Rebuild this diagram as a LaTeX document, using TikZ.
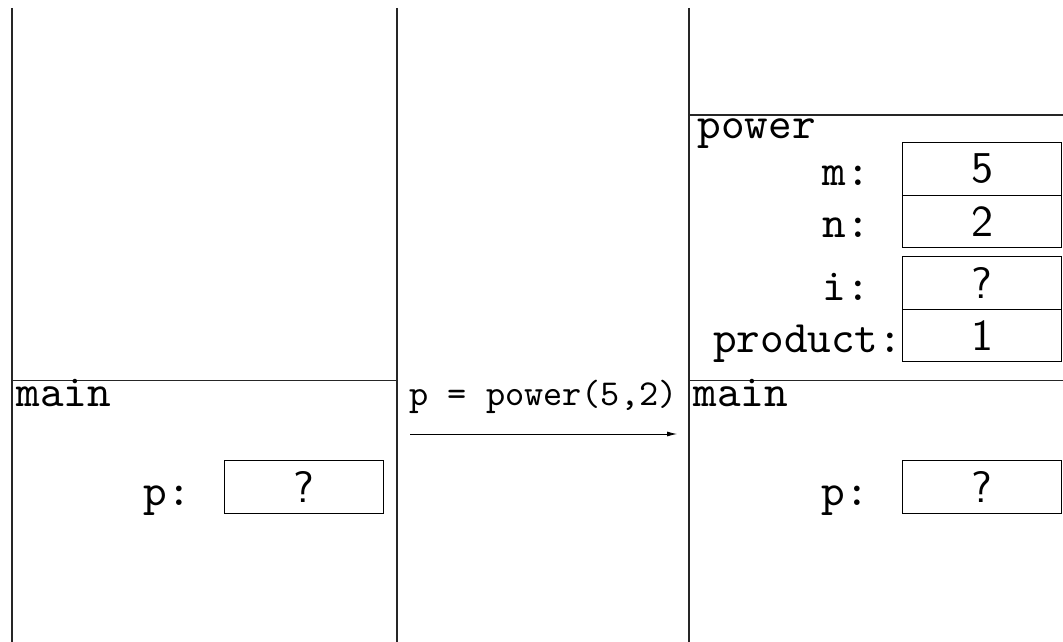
\documentclass[tikz,border=0pt]{standalone}
\usepackage{fontspec}
\newfontfamily\lblfont{lmmono10-regular.otf}
\newfontfamily\valfont{lmsans10-regular.otf}
\usetikzlibrary{arrows.meta}
\begin{document}
\begin{tikzpicture}[x=1pt,y=-1pt,
  panel/.style={line width=1.1pt, draw=black!85},
  cell/.style={draw, line width=1.1pt, minimum width=159pt, minimum height=52.5pt, inner sep=0pt, font=\fontsize{44}{50}\valfont, anchor=north west},
  lbl/.style={font=\fontsize{45}{50}\lblfont, inner sep=0pt, anchor=base east},
  ttl/.style={font=\fontsize{45}{50}\lblfont, inner sep=0pt, anchor=base west},
  callarrow/.style={-{Latex[length=10pt,width=5pt]}, line width=0.8pt},
]
\useasboundingbox (0,0) rectangle (1063,642);
% panel frames
\draw[panel] (12,8) -- (12,642);
\draw[panel] (397,8) -- (397,642);
\draw[panel] (689,8) -- (689,642);
\draw[panel] (12,380.5) -- (397,380.5);
\draw[panel] (689,380.5) -- (1063,380.5);
\draw[panel] (689,115) -- (1063,115);
% left panel: main
\node[ttl] (mainL) at (16.5,406) {main};
\node[lbl] (pL) at (191,505) {p:};
\node[cell] (pLbox) at (224,460) {?};
% middle: call
\node[font=\fontsize{36.5}{40}\lblfont, inner sep=0pt, anchor=base] (call) at (543.5,405) {p = power(5,2)};
\coordinate (a0) at (410,434);
\coordinate (a1) at (677,434);
\draw[callarrow] (a0) -- (a1);
% right panel: power frame
\node[ttl] (powerT) at (697.5,138) {power};
\node[lbl] (mL) at (870,185) {m:};
\node[cell] (mbox) at (902,142) {5};
\node[lbl] (nL) at (870,237) {n:};
\node[cell] (nbox) at (902,194.5) {2};
\node[lbl] (iL) at (870,300) {i:};
\node[cell] (ibox) at (902,256) {?};
\node[ttl] (prodL) at (713,352) {product:};
\node[cell] (prodbox) at (902,308.5) {1};
% right panel: main frame
\node[ttl] (mainR) at (693.5,406) {main};
\node[lbl] (pR) at (869,505) {p:};
\node[cell] (pRbox) at (902,460) {?};
\end{tikzpicture}
\end{document}
